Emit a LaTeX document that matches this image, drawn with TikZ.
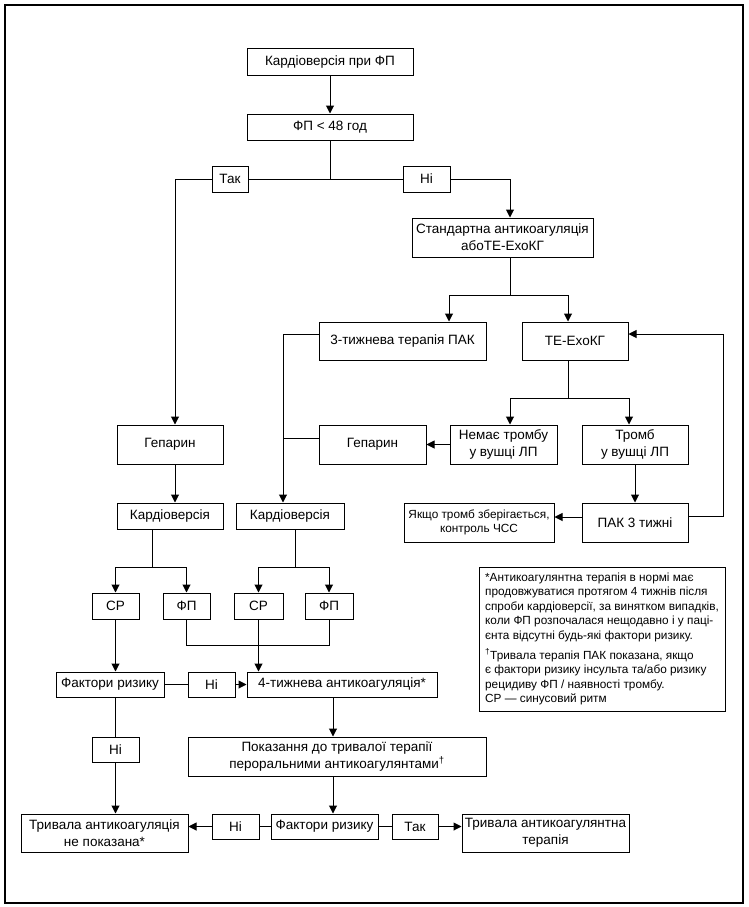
\documentclass[tikz,border=0pt]{standalone}
\usepackage{fontspec}
\setmainfont{Liberation Sans}
\usetikzlibrary{arrows.meta}

\begin{document}
\begin{tikzpicture}[x=1pt,y=-1pt,line width=1pt,
    box/.style 2 args={draw,align=center,inner sep=0pt,minimum width=#1pt,minimum height=#2pt,
      font=\fontsize{13.5}{17}\selectfont},
    arr/.style={-{Triangle[length=8pt,width=8pt]}}]
  \useasboundingbox (0,0) rectangle (748,907);
  \draw[line width=1.2pt] (5,5) rectangle (743,903);
  % boxes
  \node[box={166}{26}] (kpf) at (330,62) {Кардіоверсія при ФП};
  \node[box={166}{26}] (fp48) at (330,127) {ФП < 48 год};
  \node[box={36}{26}] (yes1) at (230,179) {Так};
  \node[box={47}{26}] (no1) at (426.5,179) {Ні};
  \node[box={181}{39}] (std) at (502.5,237.5) {Стандартна антикоагуляція\\абоТЕ-ЕхоКГ};
  \node[box={167}{38}] (pak3) at (402.5,341) {3-тижнева терапія ПАК};
  \node[box={106}{38}] (tee) at (575,341) {ТЕ-ЕхоКГ};
  \node[box={106}{39}] (hep1) at (170,444.5) {Гепарин};
  \node[box={107}{39}] (hep2) at (372.5,444.5) {Гепарин};
  \node[box={107}{39}] (nothr) at (503.5,444.5) {Немає тромбу\\у вушці ЛП};
  \node[box={106}{39}] (thr) at (635,444.5) {Тромб\\у вушці ЛП};
  \node[box={106}{26}] (kv1) at (170,516) {Кардіоверсія};
  \node[box={108}{26}] (kv2) at (290,516) {Кардіоверсія};
  \node[box={150}{39},font=\fontsize{11.8}{14.5}\selectfont] (ifthr) at (479,522.5)
    {Якщо тромб зберігається,\\контроль ЧСС};
  \node[box={106}{39}] (pak3w) at (635,522.5) {ПАК 3 тижні};
  \node[box={47}{26}] (sr1) at (115.5,606) {СР};
  \node[box={47}{26}] (fp1) at (186.5,606) {ФП};
  \node[box={49}{26}] (sr2) at (258.5,606) {СР};
  \node[box={48}{26}] (fp2) at (329,606) {ФП};
  \node[box={108}{25}] (rf1) at (110,684.5) {Фактори ризику};
  \node[box={47}{25}] (no2) at (211.5,684.5) {Ні};
  \node[box={190}{25}] (ac4) at (342,684.5) {4-тижнева антикоагуляція*};
  \node[box={47}{25}] (no3) at (115.5,749.5) {Ні};
  \node[box={298}{39}] (ind) at (337,756.5)
    {Показання до тривалої терапії\\пероральними антикоагулянтами\textsuperscript{†}};
  \node[box={107}{25}] (rf2) at (324.5,826.5) {Фактори ризику};
  \node[box={47}{25}] (no4) at (235.5,826.5) {Ні};
  \node[box={46}{25}] (yes2) at (415,826.5) {Так};
  \node[box={167}{38}] (noac) at (104.5,833) {Тривала антикоагуляція\\не показана*};
  \node[box={167}{38}] (ltac) at (545.5,833) {Тривала антикоагулянтна\\терапія};
  % note
  \node[draw,align=left,inner sep=0pt,minimum width=246pt,minimum height=144pt,
    font=\fontsize{11.8}{14.6}\selectfont] (note) at (602,639)
    {*Антикоагулянтна терапія в нормі має\\
     продовжуватися протягом 4 тижнів після\\
     спроби кардіоверсії, за винятком випадків,\\
     коли ФП розпочалася нещодавно і у паці-\\
     єнта відсутні будь-які фактори ризику.\\[5pt]
     \textsuperscript{†}Тривала терапія ПАК показана, якщо\\
     є фактори ризику інсульта та/або ризику\\
     рецидиву ФП / наявності тромбу.\\
     СР — синусовий ритм};
  % top part
  \draw[arr] (kpf) -- (fp48);
  \draw (fp48.south) -- (fp48.south |- yes1.east);
  \draw (yes1.east) -- (no1.west);
  \draw[arr] (yes1.west) -| ([xshift=5pt]hep1.north);
  \draw[arr] (no1.east) -| ([xshift=7.5pt]std.north);
  \coordinate (split1) at (510,295);
  \draw ([xshift=7.5pt]std.south) -- (split1);
  \draw[arr] (split1) -| ([xshift=46.5pt]pak3.north);
  \draw[arr] (split1) -| ([xshift=-7pt]tee.north);
  % PAK branch
  \draw[arr] ([yshift=7pt]pak3.west) -| ([xshift=-7pt]kv2.north);
  \draw ([yshift=6.5pt]hep2.west) -- ++(-36,0);
  % TE branch
  \coordinate (split2) at (568,398);
  \draw ([xshift=-7pt]tee.south) -- (split2);
  \draw[arr] (split2) -| ([xshift=6.5pt]nothr.north);
  \draw[arr] (split2) -| ([xshift=-6pt]thr.north);
  \draw[arr] (nothr) -- (hep2);
  \draw[arr] (thr) -- (pak3w);
  \draw[arr] ([yshift=5.5pt]pak3w.west) -- ([yshift=5.5pt]ifthr.east);
  \coordinate (loop) at (723,334);
  \draw[arr] ([yshift=6.5pt]pak3w.east) -| (loop) -- ([yshift=7pt]tee.east);
  % cardioversion
  \draw[arr] ([xshift=5pt]hep1.south) -- ([xshift=5pt]kv1.north);
  \coordinate (split3) at (152,567);
  \draw ([xshift=-18pt]kv1.south) -- (split3);
  \draw[arr] (split3) -| (sr1.north);
  \draw[arr] (split3) -| (fp1.north);
  \coordinate (split4) at (295,567);
  \draw ([xshift=5pt]kv2.south) -- (split4);
  \draw[arr] (split4) -| (sr2.north);
  \draw[arr] (split4) -| (fp2.north);
  \draw (fp1.south) -- ++(0,26) -| (fp2.south);
  \draw[arr] (sr2.south) -- (sr2.south |- ac4.north);
  \draw[arr] (sr1.south) -- (sr1.south |- rf1.north);
  \draw (rf1) -- (no2);
  \draw[arr] (no2) -- (ac4);
  % bottom part
  \draw (no3.north |- rf1.south) -- (no3.north);
  \draw[arr] (no3.south) -- (no3.south |- noac.north);
  \draw[arr] (ac4.south -| 333,0) -- (ind.north -| 333,0);
  \draw[arr] (ind.south -| 333,0) -- (rf2.north -| 333,0);
  \draw (rf2) -- (no4);
  \draw[arr] (no4.west) -- (no4.west -| noac.east);
  \draw (rf2) -- (yes2);
  \draw[arr] (yes2.east) -- (yes2.east -| ltac.west);
\end{tikzpicture}
\end{document}
